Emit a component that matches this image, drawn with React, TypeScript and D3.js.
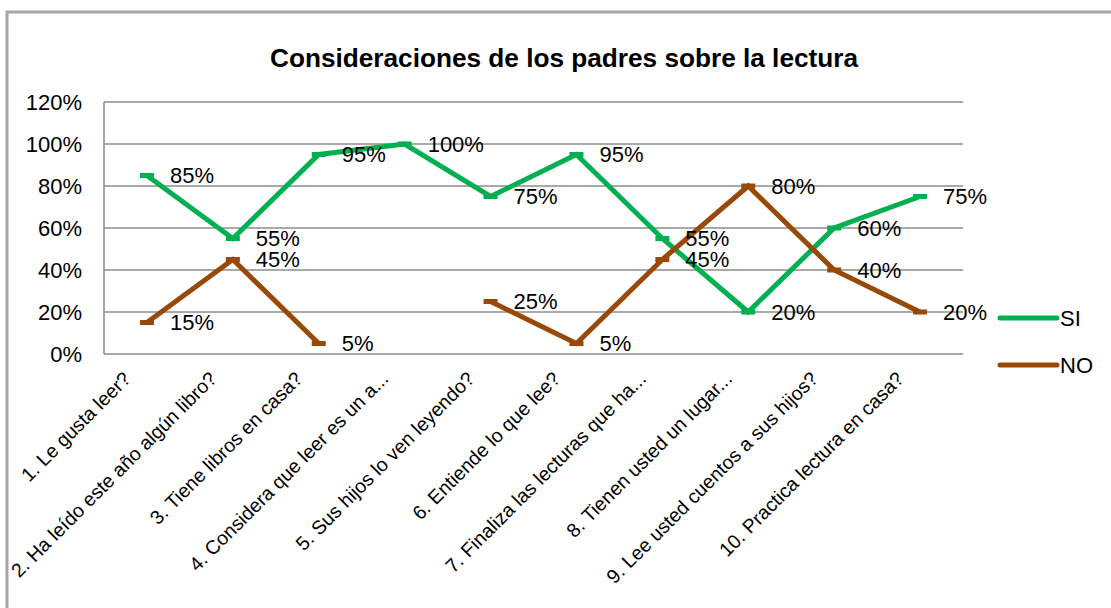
import React from "react";
import * as d3 from "d3";

const categories = [
  "1. Le gusta leer?",
  "2. Ha leído este año algún libro?",
  "3. Tiene libros en casa?",
  "4. Considera que leer es un a...",
  "5. Sus hijos lo ven leyendo?",
  "6. Entiende lo que lee?",
  "7. Finaliza las lecturas que ha...",
  "8. Tienen usted un lugar...",
  "9. Lee usted cuentos a sus hijos?",
  "10. Practica lectura en casa?",
];
const siValues: (number | null)[] = [85, 55, 95, 100, 75, 95, 55, 20, 60, 75];
const noValues: (number | null)[] = [15, 45, 5, null, 25, 5, 45, 80, 40, 20];
const yTicks = [0, 20, 40, 60, 80, 100, 120];
const title = "Consideraciones de los padres sobre la lectura";

const series = [
  { name: "SI", values: siValues, color: "#00B050" },
  { name: "NO", values: noValues, color: "#984807" },
];

const FONT = "'Liberation Sans', Arial, sans-serif";

export default function App() {
  const W = 1111, H = 608;
  const left = 104, right = 963, top = 102, bottom = 354;
  const x = d3.scaleBand<string>().domain(categories).range([left, right]);
  const y = d3.scaleLinear().domain([0, 120]).range([bottom, top]);
  const cx = (i: number) => (x(categories[i]) as number) + x.bandwidth() / 2;

  const line = d3
    .line<number | null>()
    .defined((d) => d !== null)
    .x((_, i) => cx(i))
    .y((d) => y(d as number));

  return (
    <svg
      width={W}
      height={H}
      style={{ position: "absolute", left: 0, top: 0, background: "#fff" }}
    >
      <rect x={7} y={12} width={1200} height={700} fill="#fff" stroke="#a6a6a6" strokeWidth={3} />
      <text
        x={564}
        y={67}
        textAnchor="middle"
        fontFamily={FONT}
        fontWeight="bold"
        fontSize={25}
        textLength={588}
        lengthAdjust="spacingAndGlyphs"
        fill="#000"
      >
        {title}
      </text>
      {/* gridlines */}
      {yTicks.map((t) => (
        <g key={t}>
          <line x1={left} x2={right} y1={y(t)} y2={y(t)} stroke="#8c8c8c" strokeWidth={1.5} />
          <text
            x={82}
            y={y(t)}
            dy="0.35em"
            textAnchor="end"
            fontFamily={FONT}
            fontSize={22}
            fill="#000"
          >
            {t}%
          </text>
        </g>
      ))}
      <line x1={left} x2={left} y1={top} y2={bottom} stroke="#8c8c8c" strokeWidth={1.5} />
      {/* x labels */}
      {categories.map((c, i) => (
        <text
          key={c}
          transform={`translate(${cx(i) - 15},${bottom + 26}) rotate(-45)`}
          textAnchor="end"
          fontFamily={FONT}
          fontSize={19.5}
          fill="#000"
        >
          {c}
        </text>
      ))}
      {/* series */}
      {series.map((s) => (
        <g key={s.name}>
          <path
            d={line(s.values) || ""}
            fill="none"
            stroke={s.color}
            strokeWidth={5}
            strokeLinejoin="miter"
          />
          {s.values.map((v, i) =>
            v === null ? null : (
              <rect
                key={i}
                x={cx(i) - 7}
                y={y(v) - 2.5}
                width={14}
                height={5}
                fill={s.color}
              />
            )
          )}
        </g>
      ))}
      {/* data labels */}
      {series.map((s) =>
        s.values.map((v, i) =>
          v === null ? null : (
            <text
              key={s.name + i}
              x={cx(i) + 23}
              y={y(v)}
              dy="0.35em"
              fontFamily={FONT}
              fontSize={22}
              fill="#000"
            >
              {v}%
            </text>
          )
        )
      )}
      {/* legend */}
      {series.map((s, i) => (
        <g key={s.name} transform={`translate(1000,${318 + i * 47})`}>
          <line x1={0} x2={57} y1={0} y2={0} stroke={s.color} strokeWidth={5} strokeLinecap="round" />
          <text x={60} y={0} dy="0.35em" fontFamily={FONT} fontSize={22} fill="#000">
            {s.name}
          </text>
        </g>
      ))}
    </svg>
  );
}
